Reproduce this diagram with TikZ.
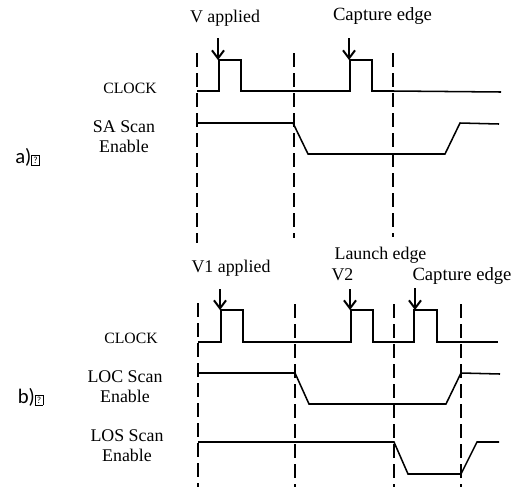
\documentclass[tikz,border=0pt]{standalone}
\usepackage{fontspec}
\setmainfont{Liberation Serif}
\setsansfont{Carlito}
\usetikzlibrary{arrows.meta}

\newcommand{\tofu}{\fboxsep=1.1pt\fboxrule=0.4pt\fbox{\fontsize{7}{7}\selectfont ?}}

\begin{document}
\begin{tikzpicture}[
		x=0.75pt, y=-0.75pt,
		lbl/.style={inner sep=0pt, align=center, font=\fontsize{13.4}{15}\selectfont},
		clk/.style={inner sep=0pt, font=\fontsize{11.8}{15}\selectfont},
		tag/.style={inner sep=0pt, font=\sffamily\fontsize{15.5}{16}\selectfont},
		wave/.style={line width=1.15pt},
		guide/.style={line width=1.1pt, dash pattern=on 10.5pt off 4.5pt},
		edgearr/.style={-{Straight Barb[length=6pt,width=9pt,line width=1.5pt]}, line width=1.4pt},
	]
	\useasboundingbox (0,0) rectangle (521,490);

	% Panel a
	\node[tag] (taga) at (27.5,157) {a)\tofu};
	\node[lbl] (vapp) at (225,18) {V applied};
	\node[lbl, font=\fontsize{14}{15}\selectfont] (capa) at (382.5,16) {Capture edge};
	\node[clk] (clka) at (130,88) {CLOCK};
	\node[lbl] (sa) at (124,136.5) {SA Scan\\Enable};

	\coordinate (arra1) at (218,38);
	\coordinate (tipa1) at (218,60);
	\coordinate (arra2) at (349,38);
	\coordinate (tipa2) at (349,60);
	\draw[edgearr] (arra1) -- (tipa1);
	\draw[edgearr] (arra2) -- (tipa2);

	\draw[guide] (197,53) -- (197,243);
	\draw[guide] (294,53) -- (294,238);
	\draw[guide] (393,53) -- (393,237);

	\draw[wave] (197,91) -- (219,91) -- (219,60) -- (241,60) -- (241,91) -- (350,91)
		-- (350,60) -- (372,60) -- (372,91) -- (393,91) -- (501,92);
	\draw[wave] (197,123) -- (293,123) -- (308,154) -- (445,154) -- (460,123) -- (499,124);

	% Panel b
	\node[tag] (tagb) at (30.5,397) {b)\tofu};
	\node[lbl] (v1app) at (231,268) {V1 applied};
	\node[lbl] (lau) at (380.5,255) {Launch edge};
	\node[lbl] (v2) at (342.5,275) {V2};
	\node[lbl, font=\fontsize{14}{15}\selectfont] (capb) at (462,276) {Capture edge};
	\node[clk] (clkb) at (131,338) {CLOCK};
	\node[lbl] (loc) at (125,386.5) {LOC Scan\\Enable};
	\node[lbl] (los) at (127,446) {LOS Scan\\Enable};

	\coordinate (arrb1) at (220,289);
	\coordinate (tipb1) at (220,310);
	\coordinate (arrb2) at (350,289);
	\coordinate (tipb2) at (350,310);
	\coordinate (arrb3) at (415,288);
	\coordinate (tipb3) at (415,310);
	\draw[edgearr] (arrb1) -- (tipb1);
	\draw[edgearr] (arrb2) -- (tipb2);
	\draw[edgearr] (arrb3) -- (tipb3);

	\draw[guide] (198,303) -- (198,487);
	\draw[guide] (295,304) -- (295,487);
	\draw[guide] (394,304) -- (394,487);
	\draw[guide] (461,304) -- (461,487);

	\draw[wave] (198,342) -- (221,342) -- (221,310) -- (243,310) -- (243,342) -- (351,342)
		-- (351,310) -- (373,310) -- (373,342) -- (414,342) -- (414,310) -- (437,310)
		-- (437,342) -- (498,342);
	\draw[wave] (198,373) -- (295,373) -- (309,404) -- (446,404) -- (461,373) -- (500,374);
	\draw[wave] (198,442) -- (394,442) -- (408,474) -- (461,474) -- (477,442) -- (499,442);
\end{tikzpicture}
\end{document}
